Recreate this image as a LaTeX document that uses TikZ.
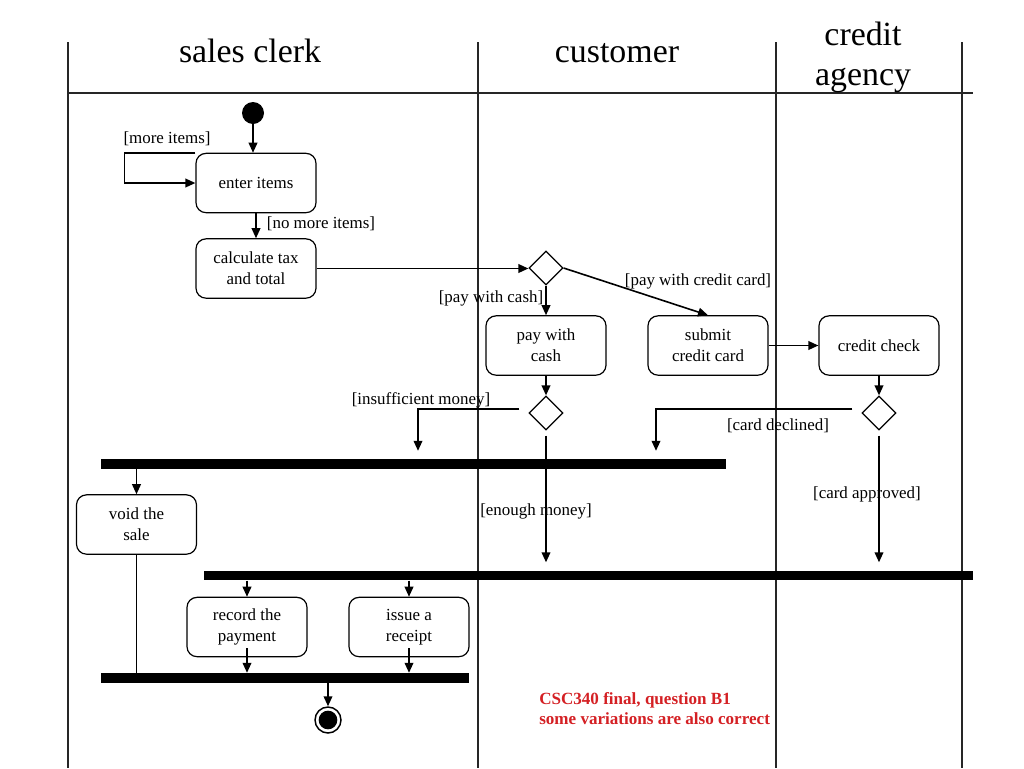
\documentclass[tikz,border=0pt]{standalone}
\usepackage{fontspec}
\setmainfont{Liberation Serif}
\usetikzlibrary{arrows.meta,shapes.geometric,calc}
\definecolor{notered}{RGB}{212,32,36}
\newcommand\diagbody{\fontsize{12.7}{15.75}\selectfont}
\newcommand\diaghead{\fontsize{25.4}{29.5}\selectfont}
\begin{document}
\begin{tikzpicture}[x=0.75pt,y=-0.75pt,
  act/.style={draw, line width=0.9pt, rounded corners=7.5pt, minimum width=90pt, minimum height=44.5pt, inner sep=0pt, align=center, font=\diagbody},
  dec/.style={draw, line width=0.9pt, diamond, minimum width=25.5pt, minimum height=25.5pt, inner sep=0pt},
  bar/.style={fill=black, inner sep=0pt, minimum height=7.4pt},
  lbl/.style={font=\diagbody, inner sep=0pt},
  flow/.style={line width=1.2pt, -{Triangle[length=7.5pt,width=6.5pt]}},
  lane/.style={line width=0.9pt, draw=black!85},
  head/.style={font=\diaghead, align=center, inner sep=0pt}]
\useasboundingbox (0,0) rectangle (1024,768);
% swimlanes
\draw[lane] (68,42) -- (68,768);
\draw[lane] (478,42) -- (478,768);
\draw[lane] (776,42) -- (776,768);
\draw[lane] (962,42) -- (962,768);
\draw[lane] (68,93) -- (973,93);
\node[head, anchor=base] (h1) at (250,62) {sales clerk};
\node[head, anchor=base] (h2) at (617,62) {customer};
\node[head] (h3) at (863,57.5) {credit\\agency};
% nodes
\node[circle, fill=black, minimum size=16.5pt, inner sep=0pt] (start) at (253,113) {};
\node[act] (enter) at (256,183) {enter items};
\node[act] (calc) at (256,268.5) {calculate tax\\and total};
\node[dec] (d1) at (546,268) {};
\node[act] (cash) at (546,345.5) {pay with\\cash};
\node[act] (submit) at (708,345.5) {submit\\credit card};
\node[act] (check) at (879,345.5) {credit check};
\node[dec] (d2) at (546,413) {};
\node[dec] (d3) at (879,413) {};
\node[bar, minimum width=468.75pt] (b1) at (413.5,464) {};
\node[bar, minimum width=576.75pt] (b2) at (588.5,575.5) {};
\node[bar, minimum width=276pt] (b3) at (285,678) {};
\node[act] (void) at (136.5,524.5) {void the\\sale};
\node[act] (record) at (247,627) {record the\\payment};
\node[act] (issue) at (409,627) {issue a\\receipt};
\node[circle, draw, line width=1.1pt, minimum size=19.5pt, inner sep=0pt] (end) at (328,720) {};
\fill (end.center) circle (7pt);
% labels
\node[lbl] (l1) at (167,139) {[more items]};
\node[lbl] (l2) at (321,224) {[no more items]};
\node[lbl] (l3) at (698,281) {[pay with credit card]};
\node[lbl] (l4) at (491,298) {[pay with cash]};
\node[lbl] (l5) at (421,400) {[insufficient money]};
\node[lbl] (l6) at (778,426) {[card declined]};
\node[lbl] (l7) at (867,494) {[card approved]};
\node[lbl] (l8) at (536,511) {[enough money]};
\node[font=\bfseries\fontsize{12.8}{15}\selectfont, text=notered, align=left, anchor=west, inner sep=0pt] (note) at (539,709) {CSC340 final, question B1\\some variations are also correct};
% connectors
\draw[flow] (start.south) -- (start.south |- enter.north);
\draw[flow] (enter.north west) -- ++(-71,0) |- (enter.west);
\draw[flow] (enter) -- (calc);
\draw[flow] (calc.east) -- (calc.east -| d1.west);
\draw[flow] (d1) -- (cash);
\draw[flow] (d1.east) -- (submit.north);
\draw[flow] (submit) -- (check);
\draw[flow] (cash) -- (d2);
\draw[flow] (check) -- (d3);
\draw[flow, shorten >=6pt] ($(d2.west)+(-9,-4)$) -| (418,0 |- b1.north);
\draw[flow, shorten >=6pt] ($(d3.west)+(-9,-4)$) -| (656,0 |- b1.north);
\draw[flow, shorten >=6pt] ($(d2.south)+(0,5)$) -- (d2.south |- b2.north);
\draw[flow, shorten >=6pt] ($(d3.south)+(0,5)$) -- (d3.south |- b2.north);
\draw[flow] (void.north |- b1.south) -- (void.north);
\draw[line width=1.2pt] (void.south) -- (void.south |- b3.north);
\draw[flow] (record.north |- b2.south) -- (record.north);
\draw[flow] (issue.north |- b2.south) -- (issue.north);
\draw[flow] ($(record.south)+(0,-9)$) -- (record.south |- b3.north);
\draw[flow] ($(issue.south)+(0,-9)$) -- (issue.south |- b3.north);
\draw[flow] (end.north |- b3.south) -- (end.north);
\end{tikzpicture}
\end{document}
